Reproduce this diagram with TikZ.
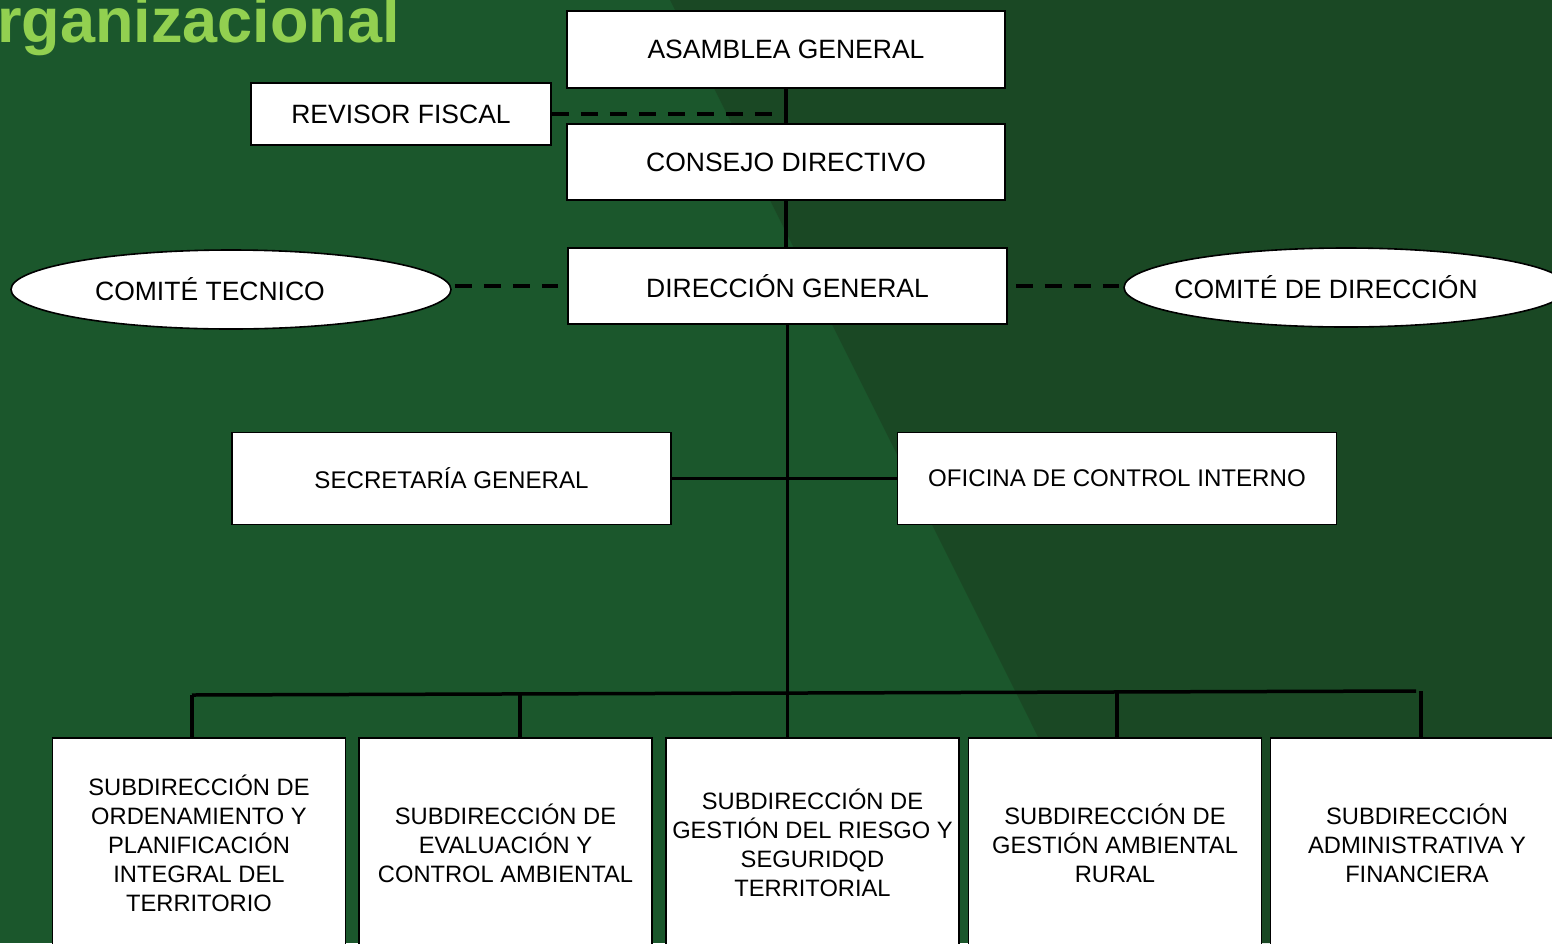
\documentclass[tikz,border=0pt]{standalone}
\usepackage{fontspec}
\setmainfont{Liberation Sans}
\usetikzlibrary{shapes.geometric}

\definecolor{fondoclaro}{RGB}{27,87,44}
\definecolor{fondooscuro}{RGB}{26,72,36}
\definecolor{verdetitulo}{RGB}{146,208,80}

\begin{document}
\begin{tikzpicture}[x=1pt,y=-1pt]
\tikzstyle{caja} = [rectangle, draw=black, line width=1.6pt, fill=white, inner sep=0pt, text=black, font=\fontsize{26.5}{32}\selectfont]
\tikzstyle{cajamedia} = [caja, minimum width=439pt, minimum height=92pt, font=\fontsize{24.1}{29}\selectfont]
\tikzstyle{subcaja} = [caja, minimum width=293pt, minimum height=210pt, align=center, font=\fontsize{23.7}{29}\selectfont]
\tikzstyle{comite} = [ellipse, draw=black, line width=1.6pt, fill=white, inner sep=0pt, minimum height=79pt]
\tikzstyle{linea} = [draw, line width=3.5pt]
\tikzstyle{punteada} = [draw, line width=3.5pt, dash pattern=on 17pt off 12pt]

% fondo
\useasboundingbox (0,0) rectangle (1552,943);
\clip (0,0) rectangle (1552,943);
\fill[fondoclaro] (0,0) rectangle (1552,943);
\fill[fondooscuro] (670,0) -- (1552,0) -- (1552,943) -- (1141,943) -- cycle;
\node[anchor=base west, inner sep=0pt, text=verdetitulo, font=\fontsize{63}{70}\selectfont\bfseries] (titulo) at (-3,42) {rganizacional};

% nivel 1
\node [caja, minimum width=438pt, minimum height=77pt] (asamblea) at (786,49.5) {ASAMBLEA GENERAL};
\node [caja, minimum width=300pt, minimum height=62pt] (revisor) at (401,114) {REVISOR FISCAL};
\node [caja, minimum width=438pt, minimum height=76pt] (consejo) at (786,162) {CONSEJO DIRECTIVO};
% nivel 2
\node [caja, minimum width=439pt, minimum height=76pt] (direccion) at (787.5,286) {DIRECCIÓN GENERAL};
\node [comite, minimum width=440pt, label={[xshift=-21pt, font=\fontsize{26.5}{32}\selectfont]center:COMITÉ TECNICO}] (tecnico) at (231,289.5) {};
\node [comite, minimum width=444pt, label={[xshift=-20pt, font=\fontsize{26.5}{32}\selectfont]center:COMITÉ DE DIRECCIÓN}] (comdir) at (1346,287.5) {};
% nivel 3
\node [cajamedia] (secretaria) at (451.5,478.5) {SECRETARÍA GENERAL};
\node [cajamedia] (oficina) at (1117,478.5) {OFICINA DE CONTROL INTERNO};
% subdirecciones
\node [subcaja] (sub1) at (199,843) {SUBDIRECCIÓN DE\\ORDENAMIENTO Y\\PLANIFICACIÓN\\INTEGRAL DEL\\TERRITORIO};
\node [subcaja] (sub2) at (505.5,843) {SUBDIRECCIÓN DE\\EVALUACIÓN Y\\CONTROL AMBIENTAL};
\node [subcaja] (sub3) at (812.5,843) {SUBDIRECCIÓN DE\\GESTIÓN DEL RIESGO Y\\SEGURIDQD\\TERRITORIAL};
\node [subcaja] (sub4) at (1115,843) {SUBDIRECCIÓN DE\\GESTIÓN AMBIENTAL\\RURAL};
\node [subcaja] (sub5) at (1417,843) {SUBDIRECCIÓN\\ADMINISTRATIVA Y\\FINANCIERA};

\coordinate (d1) at (192,695);
\coordinate (d2) at (520,694);
\coordinate (tronco) at (787.5,693);
\coordinate (d4) at (1117,692);
\coordinate (d5) at (1421,691);
\coordinate (barfin) at (1416,691);

\draw[linea] (asamblea.south) -- (consejo.north);
\draw[linea] (consejo.south) -- (consejo.south |- direccion.north);
\draw[linea] (direccion.south) -- (tronco);
\draw[punteada] (revisor.east) -- (revisor.east -| consejo.north);
\draw[punteada, shorten <=3pt, shorten >=9pt] (tecnico.east |- direccion.west) -- (direccion.west);
\draw[punteada, shorten <=8pt, shorten >=4pt] (direccion.east) -- (direccion.east -| comdir.west);
\draw[linea] (secretaria.east) -- (secretaria.east -| tronco);
\draw[linea] (oficina.west) -- (oficina.west -| tronco);
\draw[linea] (d1) -- (barfin);
\draw[linea] (d1) -- (d1 |- sub1.north);
\draw[linea] (d2) -- (d2 |- sub2.north);
\draw[linea] (tronco) -- (tronco |- sub3.north);
\draw[linea] (d4) -- (d4 |- sub4.north);
\draw[linea] (d5) -- (d5 |- sub5.north);
\end{tikzpicture}
\end{document}
